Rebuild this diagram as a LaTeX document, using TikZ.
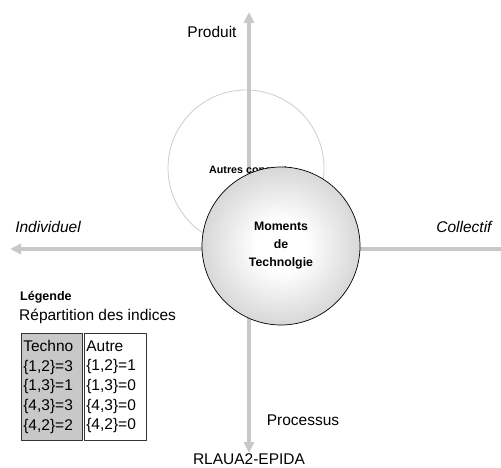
\documentclass[tikz,border=0pt]{standalone}
\usepackage{fontspec}
\setmainfont{Liberation Sans}
\usetikzlibrary{arrows.meta}
\definecolor{axiscol}{RGB}{200,200,200}
\definecolor{ringcol}{RGB}{205,205,205}
\definecolor{technocol}{RGB}{200,200,200}
\definecolor{shadecol}{RGB}{190,190,190}
\pgfdeclareradialshading{momentshade}{\pgfpoint{0bp}{0bp}}{%
  color(0bp)=(white); color(8bp)=(white); color(36bp)=(shadecol); color(50bp)=(shadecol)}
\newcommand{\axlbl}[4]{\node[font=\fontsize{15.5}{18}\selectfont#1, anchor=center, inner sep=0pt] (#2) at (#3) {#4};}

\begin{document}
\begin{tikzpicture}[x=1pt, y=-1pt, line join=round,
  axis/.style={axiscol, line width=4pt, -{Triangle[width=10pt,length=11pt]}},
  cell/.style={draw=black!80, line width=0.6pt, anchor=north west, align=left,
    text width=57pt, minimum height=107pt, inner sep=2pt,
    font=\fontsize{15.5}{19.6}\selectfont}]
\useasboundingbox (0,0) rectangle (501,468);

% ------------------------------------------------------------------
% Axes: Produit / Processus and Individuel / Collectif
% ------------------------------------------------------------------
\coordinate (centre) at (249,249);
\coordinate (haut) at (249,12);
\coordinate (bas) at (249,453);
\coordinate (gauche) at (10,249);
\coordinate (droite) at (501,249);

% ------------------------------------------------------------------
% Other concepts: light ring behind everything
% ------------------------------------------------------------------
\node[circle, draw=ringcol, line width=0.8pt, minimum size=156pt, inner sep=0pt]
  (autres) at (246,168) {};

\draw[axis] (centre) -- (haut);
\draw[axis] (centre) -- (bas);
\draw[axis] (centre) -- (gauche);
\draw[axiscol, line width=4pt] (centre) -- (droite);

\node[anchor=west, font=\bfseries\fontsize{10.7}{12}\selectfont, inner sep=0pt]
  (autreslbl) at (209,171) {Autres concepts};

% ------------------------------------------------------------------
% Moments de technologie (drawn last, hides part of the label)
% ------------------------------------------------------------------
\node[circle, draw=black, line width=0.7pt, minimum size=158pt, inner sep=0pt,
  shading=momentshade, align=center,
  font=\bfseries\fontsize{12.3}{18}\selectfont]
  (moments) at (281,246) {Moments\\de\\Technolgie};

% ------------------------------------------------------------------
% Axis labels
% ------------------------------------------------------------------
\axlbl{}{produit}{212,32}{Produit}
\axlbl{}{processus}{303,420}{Processus}
\axlbl{\itshape}{individuel}{48,227}{Individuel}
\axlbl{\itshape}{collectif}{464,227}{Collectif}
\axlbl{}{source}{249,459}{RLAUA2-EPIDA}

% ------------------------------------------------------------------
% Legend
% ------------------------------------------------------------------
\node[anchor=west, font=\bfseries\fontsize{12.5}{14}\selectfont, inner sep=0pt]
  (legende) at (20,297) {Légende};
\node[anchor=west, font=\fontsize{15.5}{18}\selectfont, inner sep=0pt]
  (repart) at (19,316) {Répartition des indices};

\node[cell, fill=technocol] (techno) at (21,333)
  {Techno\\\{1,2\}=3\\\{1,3\}=1\\\{4,3\}=3\\\{4,2\}=2};
\node[cell, fill=white, text width=58pt] (autre) at (84,333)
  {Autre\\\{1,2\}=1\\\{1,3\}=0\\\{4,3\}=0\\\{4,2\}=0};

\end{tikzpicture}
\end{document}
